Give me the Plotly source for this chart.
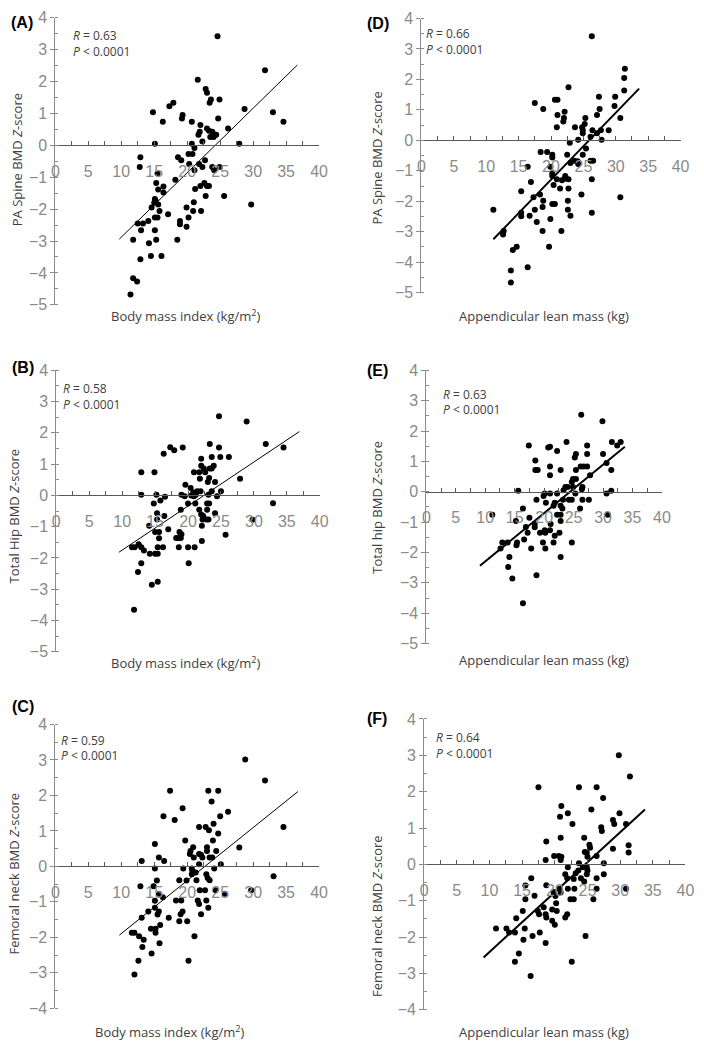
import plotly.graph_objects as go

# ---------------- DATA ----------------
# (A) BMI vs PA spine BMD Z-score
a_x = [24.6, 31.8, 21.6, 22.8, 23.0, 24.9, 23.6, 23.4, 17.3, 17.9, 14.8, 28.7, 33.0, 34.6, 19.3, 19.2, 24.7, 16.3,
       20.7, 22.0, 26.2, 23.0, 21.9, 21.7, 23.3, 23.8, 24.0, 24.4, 23.5, 24.0, 22.3, 15.1, 20.7, 27.9, 21.1, 12.9,
       18.6, 19.1, 20.2, 20.8, 22.7, 20.3, 21.8, 12.8, 22.3, 23.8, 24.9, 21.1, 24.1, 15.5, 18.2, 15.3, 22.6, 22.0,
       23.0, 23.3, 16.4, 21.2, 15.6, 16.4, 15.1, 15.2, 21.0, 22.8, 25.6, 15.0, 15.6, 29.7, 14.6, 19.9, 15.8, 20.9,
       22.1, 17.1, 15.1, 15.5, 20.2, 14.1, 18.9, 12.5, 13.3, 18.9, 19.9, 13.0, 15.1, 11.8, 15.3, 18.5, 14.2, 12.9,
       14.5, 16.1, 11.8, 12.4, 11.4]
a_y = [3.42, 2.36, 2.06, 1.77, 1.65, 1.44, 1.44, 1.34, 1.23, 1.34, 1.04, 1.14, 1.04, 0.74, 0.95, 0.84, 0.84, 0.74,
       0.74, 0.64, 0.53, 0.53, 0.43, 0.33, 0.46, 0.43, 0.36, 0.33, 0.26, 0.26, 0.12, 0.05, 0.05, 0.05, -0.08, -0.37,
       -0.37, -0.47, -0.27, -0.27, -0.47, -0.58, -0.58, -0.68, -0.68, -0.68, -0.68, -0.78, -0.78, -0.88, -1.08,
       -1.18, -1.18, -1.27, -1.27, -1.27, -1.29, -1.37, -1.38, -1.48, -1.68, -1.73, -1.78, -1.59, -1.59, -1.80,
       -1.85, -1.85, -1.95, -1.95, -2.06, -2.06, -2.06, -2.16, -2.26, -2.26, -2.26, -2.37, -2.37, -2.45, -2.45,
       -2.47, -2.55, -2.66, -2.66, -2.96, -2.96, -2.96, -3.07, -3.57, -3.47, -3.47, -4.17, -4.27, -4.68]
a_fit_x = [9.7, 36.7]
a_fit_y = [-2.94, 2.52]

# (B) BMI vs total hip BMD Z-score
b_x = [24.7, 28.9, 23.3, 31.8, 24.7, 34.5, 17.3, 17.9, 19.2, 16.3, 23.6, 24.9, 26.2, 22.0, 22.0, 23.9, 22.4, 23.3,
       23.6, 12.9, 14.9, 20.9, 21.7, 22.6, 27.9, 21.8, 23.2, 24.1, 23.0, 19.6, 20.4, 23.6, 25.0, 20.8, 21.4, 21.9,
       21.2, 19.0, 12.9, 15.2, 16.5, 19.5, 20.5, 20.9, 23.1, 24.4, 14.8, 20.0, 21.1, 22.9, 23.2, 21.7, 18.9, 22.9,
       15.8, 22.0, 24.1, 15.3, 22.3, 16.4, 22.2, 22.8, 23.1, 15.3, 29.8, 14.1, 22.1, 17.0, 15.0, 15.6, 18.7, 19.0,
       25.7, 18.5, 18.2, 18.9, 15.6, 22.1, 14.2, 15.0, 15.4, 11.5, 11.9, 12.5, 12.9, 13.3, 15.4, 16.2, 18.6, 20.0,
       21.0, 12.9, 20.1, 12.4, 14.5, 15.4, 11.8, 32.9]
b_y = [2.53, 2.36, 1.64, 1.64, 1.53, 1.53, 1.54, 1.44, 1.53, 1.33, 1.23, 1.23, 1.23, 1.17, 0.95, 0.95, 0.86, 0.86,
       0.86, 0.74, 0.74, 0.74, 0.74, 0.74, 0.53, 0.53, 0.56, 0.43, 0.43, 0.34, 0.24, 0.13, 0.13, 0.09, 0.13, 0.13,
       0.02, 0.02, 0.02, 0.02, -0.04, -0.03, 0.00, -0.03, 0.02, -0.03, -0.26, -0.26, -0.26, -0.26, -0.26, -0.46,
       -0.46, -0.46, -0.16, -0.61, -0.57, -0.57, -0.66, -0.66, -0.77, -0.77, -0.77, -0.77, -0.78, -0.97, -0.97,
       -1.08, -1.17, -1.17, -1.17, -1.24, -1.26, -1.36, -1.36, -1.36, -1.37, -1.46, -1.87, -1.87, -1.87, -1.66,
       -1.66, -1.56, -1.66, -1.76, -1.66, -1.66, -1.66, -1.66, -1.66, -2.17, -2.17, -2.45, -2.86, -2.76, -3.66,
       -0.25]
b_fit_x = [9.5, 36.9]
b_fit_y = [-1.82, 2.04]

# (C) BMI vs femoral neck BMD Z-score
c_x = [28.8, 31.8, 17.4, 23.2, 24.7, 23.7, 19.3, 26.2, 16.4, 25.0, 18.1, 24.0, 21.8, 22.8, 34.6, 23.3, 24.7, 19.7,
       23.9, 15.1, 20.9, 27.9, 23.0, 20.5, 23.0, 24.4, 20.4, 21.8, 22.1, 21.0, 22.3, 15.7, 23.4, 23.8, 13.1, 16.5,
       21.8, 25.1, 15.1, 19.4, 20.7, 24.1, 20.8, 20.7, 21.3, 22.9, 33.1, 23.1, 23.4, 21.4, 18.8, 15.4, 19.9, 12.9,
       14.9, 21.9, 22.7, 24.3, 29.7, 15.7, 25.7, 16.3, 15.1, 18.3, 19.1, 21.6, 22.9, 15.1, 23.2, 21.8, 14.1, 15.7,
       19.3, 15.5, 19.0, 22.1, 17.2, 13.1, 18.8, 20.0, 15.9, 14.5, 15.2, 15.2, 11.6, 12.0, 12.7, 21.1, 13.4, 15.8,
       13.2, 14.6, 12.6, 20.2, 12.0]
c_y = [3.01, 2.42, 2.13, 2.13, 2.13, 1.83, 1.64, 1.54, 1.41, 1.41, 1.31, 1.20, 1.11, 1.11, 1.11, 1.02, 0.93, 0.73,
       0.73, 0.63, 0.54, 0.53, 0.54, 0.43, 0.43, 0.43, 0.35, 0.35, 0.33, 0.25, 0.25, 0.25, 0.25, 0.25, 0.15, 0.15,
       0.06, 0.06, -0.06, -0.06, -0.06, -0.06, -0.14, -0.22, -0.17, -0.22, -0.28, -0.33, -0.39, -0.39, -0.39,
       -0.40, -0.40, -0.56, -0.56, -0.67, -0.67, -0.67, -0.67, -0.77, -0.77, -0.87, -0.97, -0.96, -0.96, -0.96,
       -0.96, -1.17, -1.17, -1.06, -1.27, -1.27, -1.27, -1.36, -1.35, -1.35, -1.45, -1.45, -1.55, -1.55, -1.65,
       -1.76, -1.76, -1.87, -1.87, -1.87, -1.97, -1.97, -2.07, -2.17, -2.27, -2.46, -2.66, -2.66, -3.05]
c_fit_x = [9.7, 36.8]
c_fit_y = [-1.94, 2.11]

# (D) Appendicular lean mass vs PA spine BMD Z-score
d_x = [26.3, 31.4, 31.3, 22.7, 31.3, 17.5, 27.4, 29.9, 20.6, 21.0, 29.8, 18.8, 27.5, 21.0, 27.1, 22.1, 25.3, 30.7,
       22.0, 21.9, 25.2, 20.9, 23.7, 24.8, 24.9, 26.4, 27.7, 28.9, 24.9, 27.1, 26.1, 24.2, 27.8, 22.9, 25.4, 18.4,
       19.4, 20.2, 20.2, 22.5, 24.9, 23.6, 24.1, 23.0, 24.2, 26.1, 26.5, 16.4, 19.9, 20.2, 20.2, 22.2, 22.1, 20.9,
       21.7, 22.7, 26.3, 16.9, 20.4, 22.7, 21.4, 15.4, 18.3, 24.7, 17.3, 30.7, 18.8, 22.6, 20.2, 20.6, 18.7, 11.1,
       17.5, 22.6, 26.3, 15.4, 15.4, 16.7, 23.0, 19.9, 17.8, 12.7, 12.6, 18.7, 21.6, 14.7, 14.1, 19.7, 16.4, 13.8,
       13.8]
d_y = [3.42, 2.35, 2.05, 1.74, 1.64, 1.23, 1.43, 1.43, 1.33, 1.33, 1.13, 1.03, 1.03, 0.83, 0.83, 0.94, 0.73, 0.73,
       0.73, 0.62, 0.54, 0.43, 0.43, 0.43, 0.33, 0.33, 0.33, 0.33, 0.23, 0.23, 0.12, 0.02, 0.02, -0.08, -0.27,
       -0.38, -0.38, -0.47, -0.56, -0.47, -0.47, -0.67, -0.69, -0.74, -0.78, -0.67, -0.67, -0.87, -0.87, -1.08,
       -1.17, -1.17, -1.26, -1.28, -1.31, -1.28, -1.28, -1.37, -1.47, -1.58, -1.58, -1.67, -1.78, -1.78, -1.87,
       -1.87, -1.98, -1.98, -2.09, -2.09, -2.19, -2.28, -2.28, -2.28, -2.38, -2.38, -2.49, -2.48, -2.48, -2.58,
       -2.68, -2.98, -3.09, -2.98, -2.98, -3.49, -3.60, -3.49, -4.17, -4.27, -4.67]
d_fit_x = [11.1, 33.6]
d_fit_y = [-3.25, 1.70]

# (E) Appendicular lean mass vs total hip BMD Z-score
e_x = [26.3, 29.9, 17.4, 21.0, 20.7, 23.8, 27.3, 31.5, 32.4, 33.0, 22.2, 30.0, 27.3, 25.4, 25.2, 18.5, 21.0, 26.2,
       26.7, 27.3, 30.6, 18.5, 18.9, 22.8, 25.4, 31.4, 21.0, 27.8, 24.9, 25.4, 23.6, 24.0, 24.9, 26.5, 24.7, 23.3,
       26.4, 31.4, 15.6, 20.1, 21.0, 22.2, 25.3, 30.6, 23.2, 24.2, 24.7, 26.5, 27.6, 18.7, 19.9, 20.3, 21.8, 21.6,
       22.8, 23.1, 16.4, 26.1, 22.2, 22.8, 30.8, 11.2, 17.5, 15.2, 22.8, 21.1, 18.4, 18.4, 16.9, 20.1, 21.0, 20.2,
       17.2, 19.3, 22.6, 21.8, 16.6, 15.4, 15.3, 19.8, 21.6, 24.7, 12.9, 13.8, 12.6, 17.8, 20.2, 14.1, 22.8, 13.9,
       14.6, 18.7, 16.4]
e_y = [2.54, 2.32, 1.52, 1.48, 1.46, 1.64, 1.52, 1.64, 1.52, 1.64, 1.34, 1.24, 1.24, 1.24, 1.13, 1.03, 0.83, 0.83,
       0.83, 0.83, 0.95, 0.72, 0.72, 0.72, 0.72, 0.72, 0.54, 0.54, 0.42, 0.42, 0.16, 0.16, 0.16, 0.16, 0.32, 0.05,
       0.08, 0.03, 0.03, -0.06, -0.06, -0.06, -0.06, -0.06, -0.26, -0.26, -0.26, -0.26, -0.26, -0.26, -0.14,
       -0.36, -0.36, -0.46, -0.46, -0.55, -0.55, -0.55, -0.76, -0.76, -0.76, -0.76, -0.86, -0.96, -0.96, -1.06,
       -1.06, -1.17, -1.16, -1.27, -1.27, -1.35, -1.35, -1.35, -1.35, -1.45, -1.57, -1.67, -1.76, -1.67, -1.67,
       -1.67, -1.67, -1.67, -1.87, -1.87, -1.87, -2.15, -2.15, -2.48, -2.86, -2.75, -3.67]
e_fit_x = [9.1, 33.7]
e_fit_y = [-2.44, 1.48]

# (F) Appendicular lean mass vs femoral neck BMD Z-score
f_x = [29.8, 31.5, 17.5, 23.7, 26.4, 27.4, 21.0, 25.6, 22.0, 29.9, 20.8, 28.9, 29.1, 22.7, 30.9, 27.1, 27.2, 20.9,
       24.5, 18.7, 25.3, 31.3, 25.4, 28.9, 24.6, 24.9, 31.3, 26.4, 19.9, 20.6, 21.0, 25.0, 18.6, 20.9, 23.7, 27.5,
       22.0, 24.3, 24.9, 25.0, 23.6, 23.2, 21.6, 24.9, 27.5, 16.4, 21.9, 26.4, 24.0, 22.9, 24.5, 18.7, 15.5, 20.7,
       22.0, 23.0, 26.4, 30.9, 19.8, 20.9, 15.5, 20.1, 22.4, 22.9, 25.9, 16.9, 20.2, 19.6, 18.3, 15.1, 20.3, 17.4,
       18.6, 17.6, 21.9, 21.6, 18.7, 14.1, 19.6, 20.0, 11.0, 12.6, 15.4, 13.0, 13.9, 17.7, 15.2, 16.6, 24.7, 18.6,
       14.5, 13.9, 22.6, 16.3]
f_y = [3.00, 2.42, 2.12, 2.12, 2.12, 1.83, 1.61, 1.51, 1.41, 1.41, 1.31, 1.22, 1.11, 1.11, 1.11, 1.02, 0.92, 0.73,
       0.73, 0.63, 0.54, 0.53, 0.46, 0.43, 0.34, 0.32, 0.33, 0.23, 0.23, 0.23, 0.21, 0.21, 0.12, 0.12, 0.03, 0.03,
       -0.08, -0.08, -0.08, -0.17, -0.17, -0.24, -0.27, -0.27, -0.27, -0.38, -0.38, -0.38, -0.38, -0.40, -0.47,
       -0.57, -0.58, -0.67, -0.67, -0.67, -0.67, -0.67, -0.76, -0.77, -0.96, -0.87, -0.96, -0.96, -0.96, -0.86,
       -1.07, -1.24, -1.18, -1.28, -1.28, -1.28, -1.37, -1.37, -1.37, -1.46, -1.46, -1.48, -1.55, -1.66, -1.76,
       -1.76, -1.76, -1.87, -1.87, -1.87, -2.07, -1.97, -1.97, -2.16, -2.45, -2.68, -2.68, -3.07]
f_fit_x = [9.1, 33.8]
f_fit_y = [-2.56, 1.51]

panel_letters = ["(A)", "(B)", "(C)", "(D)", "(E)", "(F)"]
r_values = ["0.63", "0.58", "0.59", "0.66", "0.63", "0.64"]
p_text = "&lt; 0.0001"
x_titles = ["Body mass index (kg/m<sup>2</sup>)"] * 3 + ["Appendicular lean mass (kg)"] * 3
y_titles = ["PA Spine BMD <i>Z</i>-score", "Total Hip BMD <i>Z</i>-score", "Femoral neck BMD <i>Z</i>-score",
            "PA Spine BMD <i>Z</i>-score", "Total hip BMD <i>Z</i>-score", "Femoral neck BMD <i>Z</i>-score"]
y_mins = [-5, -5, -4, -5, -5, -4]
y_max = 4
x_ticks = [0, 5, 10, 15, 20, 25, 30, 35, 40]

series = [(a_x, a_y, a_fit_x, a_fit_y), (b_x, b_y, b_fit_x, b_fit_y), (c_x, c_y, c_fit_x, c_fit_y),
          (d_x, d_y, d_fit_x, d_fit_y), (e_x, e_y, e_fit_x, e_fit_y), (f_x, f_y, f_fit_x, f_fit_y)]

# ---------------- LAYOUT (pixel geometry) ----------------
W, H = 704, 1050
# plot box: left, right (x=0..40), top (y=4), bottom (y=min)
boxes = [(52.3, 321.0, 10.0, 301.7), (53.3, 321.7, 368.3, 654.3), (52.3, 321.0, 728.3, 1016.7),
         (425.3, 689.3, 10.7, 289.3), (430.3, 670.3, 368.3, 646.0), (428.0, 694.3, 722.7, 1018.3)]
letter_pos = [(5, 15), (6, 365), (6, 710), (368, 16), (368, 368), (368, 722)]
r_pos = [(68, 28, 44), (58, 387, 403), (56, 745, 760), (428, 26, 42), (445, 393, 408), (438, 742, 758)]
xt_pos = [(185, 313), (185, 665), (169, 1040), (550, 313), (550, 663), (550, 1041)]
yt_pos = [(13, 154), (10, 516), (10, 880), (380, 152), (380, 507), (380, 923)]
fit_widths = [1, 1, 1, 2, 2, 2]

fig = go.Figure()
annotations = []
TXT = "#404040"
TICK = "#8a8a8a"
TFONT = "Liberation Sans Narrow, Liberation Sans, Arial, sans-serif"
BFONT = "Open Sans, Liberation Sans, Arial, sans-serif"

def px_x(px):
    return px / W

def px_y(py):
    return 1 - py / H

for i in range(6):
    sx, sy, fx, fy = series[i]
    n = i + 1
    xa = "x" if n == 1 else f"x{n}"
    ya = "y" if n == 1 else f"y{n}"
    fig.add_trace(go.Scatter(x=sx, y=sy, mode="markers", xaxis=xa, yaxis=ya,
                             marker=dict(color="black", size=6), showlegend=False, cliponaxis=False))
    fig.add_trace(go.Scatter(x=fx, y=fy, mode="lines", xaxis=xa, yaxis=ya,
                             line=dict(color="black", width=fit_widths[i]), showlegend=False))
    l, r, t, b = boxes[i]
    ymin = y_mins[i]
    zero_px = t + (y_max - 0) / (y_max - ymin) * (b - t)
    xkey = "xaxis" if n == 1 else f"xaxis{n}"
    ykey = "yaxis" if n == 1 else f"yaxis{n}"
    fig.layout[xkey] = dict(domain=[px_x(l), px_x(r)], range=[0, 40], anchor="free", position=px_y(zero_px),
                            showline=True, linecolor="#595959", linewidth=1, showgrid=False, zeroline=False,
                            tickmode="array", tickvals=x_ticks, ticks="inside", ticklen=4, tickcolor="#595959",
                            minor=dict(ticks="inside", dtick=2.5, ticklen=4, tickcolor="#595959"),
                            tickfont=dict(family=TFONT, size=16, color=TICK), ticklabelstandoff=11,
                            fixedrange=True)
    fig.layout[ykey] = dict(domain=[px_y(b), px_y(t)], range=[ymin, y_max], anchor=xa,
                            showline=True, linecolor="#8c8c8c", linewidth=1, showgrid=False, zeroline=False,
                            dtick=1, ticks="outside", ticklen=4, tickcolor="#8c8c8c",
                            minor=dict(ticks="inside", dtick=0.5, ticklen=3, tickcolor="#8c8c8c"),
                            tickfont=dict(family=TFONT, size=16, color=TICK), fixedrange=True)
    lx, ly = letter_pos[i]
    annotations.append(dict(text="<b>" + panel_letters[i] + "</b>", x=px_x(lx), y=px_y(ly), xref="paper",
                            yref="paper", xanchor="left", yanchor="middle", showarrow=False,
                            font=dict(family="Liberation Sans, Arial, sans-serif", size=16, color="black")))
    rx, ry1, ry2 = r_pos[i]
    annotations.append(dict(text="<i>R</i> = " + r_values[i], x=px_x(rx), y=px_y(ry1), xref="paper", yref="paper",
                            xanchor="left", yanchor="middle", showarrow=False,
                            font=dict(family=BFONT, size=12, color=TXT)))
    annotations.append(dict(text="<i>P</i> " + p_text, x=px_x(rx), y=px_y(ry2), xref="paper", yref="paper",
                            xanchor="left", yanchor="middle", showarrow=False,
                            font=dict(family=BFONT, size=12, color=TXT)))
    tx, ty = xt_pos[i]
    annotations.append(dict(text=x_titles[i], x=px_x(tx), y=px_y(ty), xref="paper", yref="paper",
                            xanchor="center", yanchor="middle", showarrow=False,
                            font=dict(family=BFONT, size=13, color=TXT)))
    vx, vy = yt_pos[i]
    annotations.append(dict(text=y_titles[i], x=px_x(vx), y=px_y(vy), xref="paper", yref="paper",
                            xanchor="center", yanchor="middle", textangle=-90, showarrow=False,
                            font=dict(family=BFONT, size=13, color=TXT)))

fig.update_layout(width=W, height=H, margin=dict(l=0, r=0, t=0, b=0), paper_bgcolor="white",
                  plot_bgcolor="white", annotations=annotations, showlegend=False)
fig.write_html("out.html", config={"displayModeBar": False},
               post_script="document.body.style.margin='0px';")
